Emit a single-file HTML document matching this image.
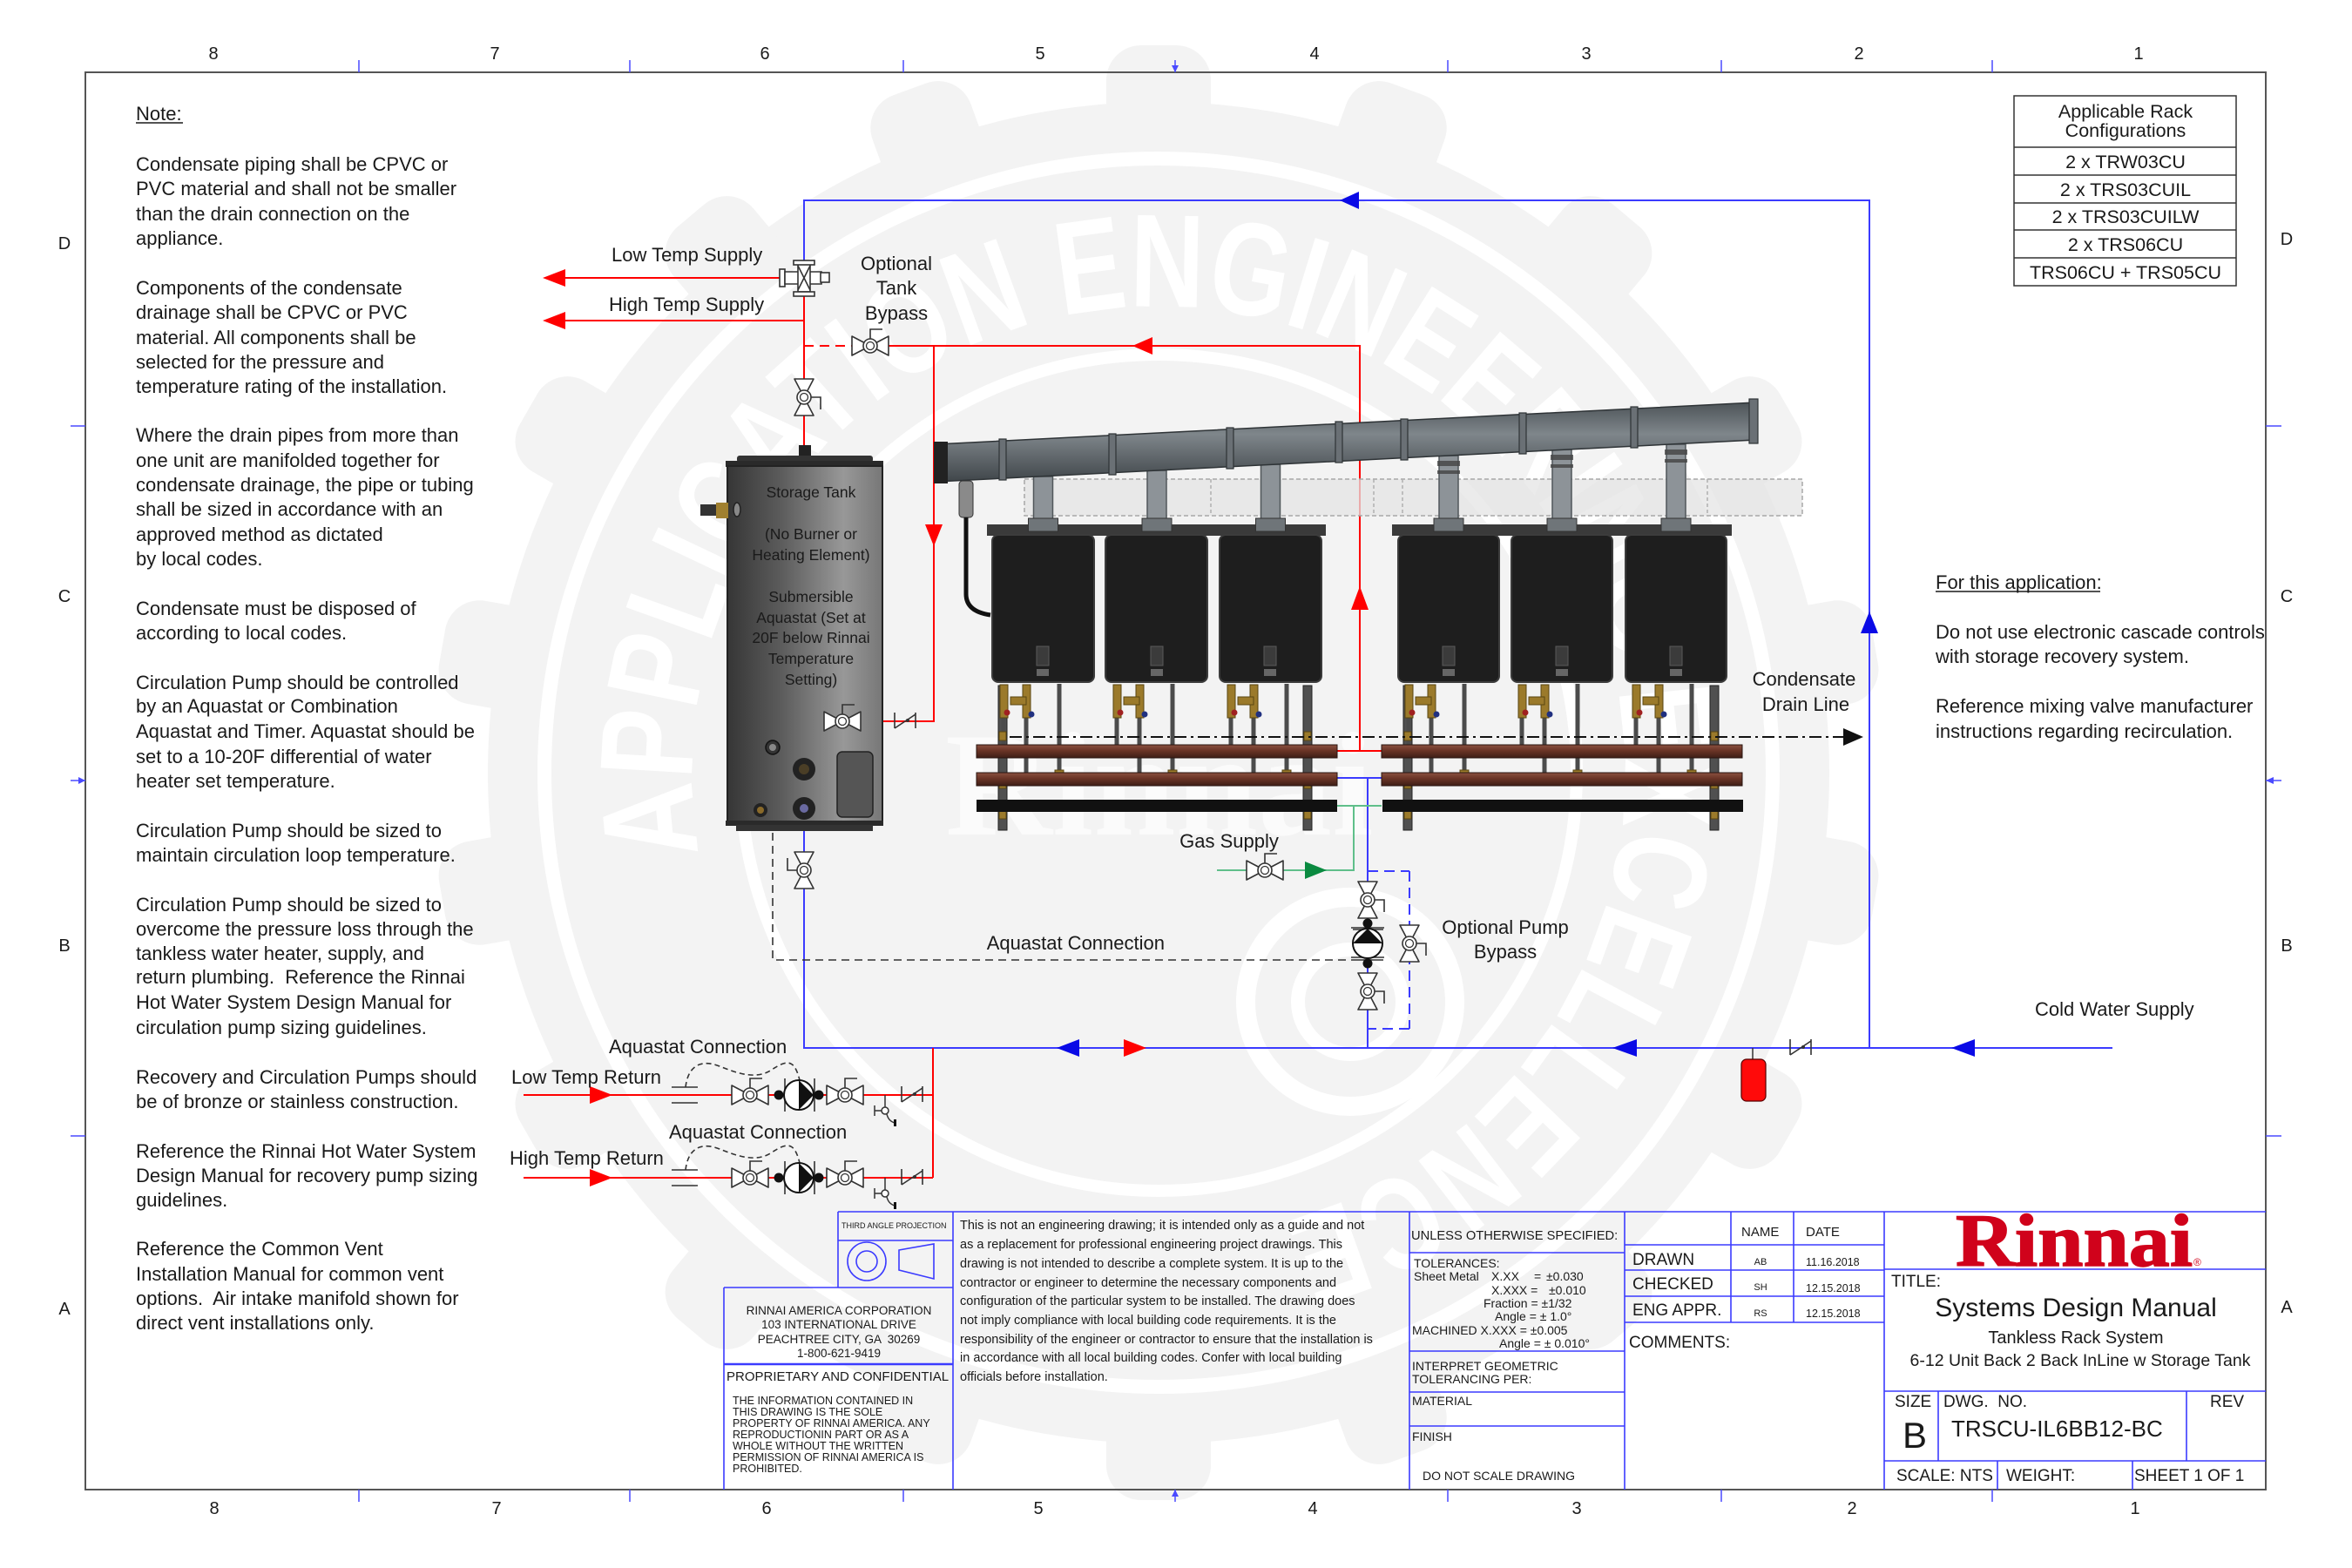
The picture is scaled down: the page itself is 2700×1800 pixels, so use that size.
<!DOCTYPE html>
<html><head><meta charset="utf-8">
<style>
html,body{margin:0;padding:0;background:#fff;}
svg{display:block;}
text{font-family:"Liberation Sans",Arial,sans-serif;fill:#1a1a1a;white-space:pre;}
</style></head><body>
<svg width="2700" height="1800" viewBox="0 0 2700 1800" xmlns="http://www.w3.org/2000/svg" xmlns:xlink="http://www.w3.org/1999/xlink">
<defs>
 <linearGradient id="tankG" x1="0" x2="1" y1="0" y2="0">
  <stop offset="0" stop-color="#363636"/><stop offset="0.35" stop-color="#5c5c5c"/><stop offset="0.75" stop-color="#989898"/><stop offset="1" stop-color="#777"/>
 </linearGradient>
 <linearGradient id="pipeG" x1="0" x2="0" y1="0" y2="1">
  <stop offset="0" stop-color="#4d5458"/><stop offset="0.4" stop-color="#7f868b"/><stop offset="1" stop-color="#40464a"/>
 </linearGradient>
 <linearGradient id="copG" x1="0" x2="0" y1="0" y2="1">
  <stop offset="0" stop-color="#8a5040"/><stop offset="0.45" stop-color="#6a3426"/><stop offset="1" stop-color="#3e1e16"/>
 </linearGradient>
 <g id="v">
  <path d="M-21,-11 L0,0 L-21,11 Z M21,-11 L0,0 L21,11 Z" fill="#fff" stroke="#333" stroke-width="1.6" stroke-linejoin="round"/>
  <circle r="8" fill="#fff" stroke="#333" stroke-width="1.6"/>
  <circle r="4.5" fill="none" stroke="#333" stroke-width="1.3"/>
  <path d="M0,-8 V-19 H14" fill="none" stroke="#333" stroke-width="1.6"/>
 </g>
 <g id="p">
  <line x1="-16" y1="-19" x2="-16" y2="19" stroke="#333" stroke-width="1.6"/>
  <line x1="18" y1="-19" x2="18" y2="19" stroke="#333" stroke-width="1.6"/>
  <circle cx="-23" r="5.5" fill="#111"/><circle cx="23" r="5.5" fill="#111"/>
  <circle r="17" fill="#fff" stroke="#111" stroke-width="2"/>
  <path d="M0,-17 L17,0 L0,17 Z" fill="#111"/>
 </g>
 <g id="c">
  <path d="M0,-10 V8 M0,8 L24,-8 M24,-10 V8" fill="none" stroke="#333" stroke-width="1.6"/>
  <circle cx="15" cy="-1" r="2" fill="#333"/>
 </g>
 <g id="d">
  <path d="M0,0 V14 M-4,18 H-12 M-12,12 V24" fill="none" stroke="#333" stroke-width="1.5"/>
  <circle cx="0" cy="18" r="4" fill="#fff" stroke="#333" stroke-width="1.5"/>
  <path d="M2,22 Q4,30 11,32" fill="none" stroke="#333" stroke-width="1.5"/>
  <rect x="10" y="28" width="3" height="8" fill="#111"/>
 </g>
 <path id="wmArc" d="M803.1,979.9 A535,535 0 1,1 1856.9,794.1 A535,535 0 1,1 803.1,979.9"/>
</defs>

<!-- WATERMARK -->
<g>
 <circle cx="1330" cy="887" r="770" fill="#f3f3f3"/>
 <g transform="translate(1330,887)" fill="#f3f3f3">
  <rect x="-60" y="-835" width="120" height="120" rx="40"/>
  <rect x="-60" y="-835" width="120" height="120" rx="40" transform="rotate(20)"/>
  <rect x="-60" y="-835" width="120" height="120" rx="40" transform="rotate(40)"/>
  <rect x="-60" y="-835" width="120" height="120" rx="40" transform="rotate(60)"/>
  <rect x="-60" y="-835" width="120" height="120" rx="40" transform="rotate(80)"/>
  <rect x="-60" y="-835" width="120" height="120" rx="40" transform="rotate(100)"/>
  <rect x="-60" y="-835" width="120" height="120" rx="40" transform="rotate(120)"/>
  <rect x="-60" y="-835" width="120" height="120" rx="40" transform="rotate(140)"/>
  <rect x="-60" y="-835" width="120" height="120" rx="40" transform="rotate(160)"/>
  <rect x="-60" y="-835" width="120" height="120" rx="40" transform="rotate(180)"/>
  <rect x="-60" y="-835" width="120" height="120" rx="40" transform="rotate(200)"/>
  <rect x="-60" y="-835" width="120" height="120" rx="40" transform="rotate(220)"/>
  <rect x="-60" y="-835" width="120" height="120" rx="40" transform="rotate(240)"/>
  <rect x="-60" y="-835" width="120" height="120" rx="40" transform="rotate(260)"/>
  <rect x="-60" y="-835" width="120" height="120" rx="40" transform="rotate(280)"/>
  <rect x="-60" y="-835" width="120" height="120" rx="40" transform="rotate(300)"/>
  <rect x="-60" y="-835" width="120" height="120" rx="40" transform="rotate(320)"/>
  <rect x="-60" y="-835" width="120" height="120" rx="40" transform="rotate(340)"/>
 </g>
 <circle cx="1330" cy="887" r="705" fill="none" stroke="#fff" stroke-width="16"/>
 <text font-size="152" font-weight="bold" style="fill:#fff"><textPath xlink:href="#wmArc" href="#wmArc" textLength="2470" lengthAdjust="spacingAndGlyphs">APPLICATION ENGINEERING EXCELLENCE</textPath></text>
 <circle cx="1330" cy="887" r="480" fill="none" stroke="#fff" stroke-width="14"/>
 <circle cx="1550" cy="1150" r="120" fill="none" stroke="#fff" stroke-width="22"/>
 <circle cx="1550" cy="1150" r="60" fill="none" stroke="#fff" stroke-width="16"/>
 <text x="1085" y="958" font-size="170" font-weight="bold" style="fill:#fbfbfb;font-family:'Liberation Serif',serif">Rinnai</text>
</g>

<!-- BORDER -->
<rect x="98" y="83" width="2503" height="1627" fill="none" stroke="#555" stroke-width="2"/>
<g stroke="#4a4aff" stroke-width="1.5">
 <path d="M412,69V83 M723,69V83 M1037,69V83 M1349,69V83 M1662,69V83 M1976,69V83 M2287,69V83"/>
 <path d="M412,1710V1724 M723,1710V1724 M1037,1710V1724 M1349,1710V1724 M1662,1710V1724 M1976,1710V1724 M2287,1710V1724"/>
 <path d="M81,489H98 M81,896H98 M81,1304H98 M2601,489H2619 M2601,896H2619 M2601,1304H2619"/>
</g>
<g fill="#4a4aff">
 <polygon points="1345,75 1353,75 1349,83"/>
 <polygon points="1345,1718 1353,1718 1349,1710"/>
 <polygon points="90,892 90,900 98,896"/>
 <polygon points="2610,892 2610,900 2601,896"/>
</g>
<g font-size="20" text-anchor="middle">
 <text x="245" y="68">8</text><text x="568" y="68">7</text><text x="878" y="68">6</text><text x="1194" y="68">5</text>
 <text x="1509" y="68">4</text><text x="1821" y="68">3</text><text x="2134" y="68">2</text><text x="2455" y="68">1</text>
 <text x="246" y="1738">8</text><text x="570" y="1738">7</text><text x="880" y="1738">6</text><text x="1192" y="1738">5</text>
 <text x="1507" y="1738">4</text><text x="1810" y="1738">3</text><text x="2126" y="1738">2</text><text x="2451" y="1738">1</text>
 <text x="74" y="286">D</text><text x="74" y="691">C</text><text x="74" y="1092">B</text><text x="74" y="1509">A</text>
 <text x="2625" y="281">D</text><text x="2625" y="691">C</text><text x="2625" y="1092">B</text><text x="2625" y="1507">A</text>
</g>

<!-- NOTES -->
<g font-size="22">
 <text x="156" y="138">Note:</text>
 <line x1="156" y1="141" x2="210" y2="141" stroke="#1a1a1a" stroke-width="1.5"/>
 <text x="156" y="196">Condensate piping shall be CPVC or</text>
 <text x="156" y="224">PVC material and shall not be smaller</text>
 <text x="156" y="253">than the drain connection on the</text>
 <text x="156" y="281">appliance.</text>
 <text x="156" y="338">Components of the condensate</text>
 <text x="156" y="366">drainage shall be CPVC or PVC</text>
 <text x="156" y="395">material. All components shall be</text>
 <text x="156" y="423">selected for the pressure and</text>
 <text x="156" y="451">temperature rating of the installation.</text>
 <text x="156" y="507">Where the drain pipes from more than</text>
 <text x="156" y="536">one unit are manifolded together for</text>
 <text x="156" y="564">condensate drainage, the pipe or tubing</text>
 <text x="156" y="592">shall be sized in accordance with an</text>
 <text x="156" y="621">approved method as dictated</text>
 <text x="156" y="649">by local codes.</text>
 <text x="156" y="706">Condensate must be disposed of</text>
 <text x="156" y="734">according to local codes.</text>
 <text x="156" y="791">Circulation Pump should be controlled</text>
 <text x="156" y="818">by an Aquastat or Combination</text>
 <text x="156" y="847">Aquastat and Timer. Aquastat should be</text>
 <text x="156" y="876">set to a 10-20F differential of water</text>
 <text x="156" y="904">heater set temperature.</text>
 <text x="156" y="961">Circulation Pump should be sized to</text>
 <text x="156" y="989">maintain circulation loop temperature.</text>
 <text x="156" y="1046">Circulation Pump should be sized to</text>
 <text x="156" y="1074">overcome the pressure loss through the</text>
 <text x="156" y="1102">tankless water heater, supply, and</text>
 <text x="156" y="1129">return plumbing.  Reference the Rinnai</text>
 <text x="156" y="1158">Hot Water System Design Manual for</text>
 <text x="156" y="1187">circulation pump sizing guidelines.</text>
 <text x="156" y="1244">Recovery and Circulation Pumps should</text>
 <text x="156" y="1272">be of bronze or stainless construction.</text>
 <text x="156" y="1329">Reference the Rinnai Hot Water System</text>
 <text x="156" y="1357">Design Manual for recovery pump sizing</text>
 <text x="156" y="1385">guidelines.</text>
 <text x="156" y="1441">Reference the Common Vent</text>
 <text x="156" y="1470">Installation Manual for common vent</text>
 <text x="156" y="1498">options.  Air intake manifold shown for</text>
 <text x="156" y="1526">direct vent installations only.</text>
</g>

<!-- RIGHT TEXT -->
<g font-size="22">
 <text x="2222" y="676">For this application:</text>
 <line x1="2222" y1="679" x2="2411" y2="679" stroke="#1a1a1a" stroke-width="1.5"/>
 <text x="2222" y="733">Do not use electronic cascade controls</text>
 <text x="2222" y="761">with storage recovery system.</text>
 <text x="2222" y="818">Reference mixing valve manufacturer</text>
 <text x="2222" y="847">instructions regarding recirculation.</text>
</g>

<!-- RACK TABLE -->
<g fill="none" stroke="#333" stroke-width="1.5">
 <rect x="2312" y="110" width="255" height="218" fill="#fff"/>
 <path d="M2312,169H2567 M2312,201H2567 M2312,233H2567 M2312,264H2567 M2312,296H2567"/>
</g>
<g font-size="21.5" text-anchor="middle">
 <text x="2440" y="135">Applicable Rack</text>
 <text x="2440" y="157">Configurations</text>
 <text x="2440" y="193">2 x TRW03CU</text>
 <text x="2440" y="225">2 x TRS03CUIL</text>
 <text x="2440" y="256">2 x TRS03CUILW</text>
 <text x="2440" y="288">2 x TRS06CU</text>
 <text x="2440" y="320">TRS06CU + TRS05CU</text>
</g>

<!-- PIPING LINES (behind heaters) -->
<g fill="none" stroke-width="2">
 <path d="M923,300 V230 H2146 V1203" stroke="#3b3bff"/>
 <path d="M923,953 V1203 H2425" stroke="#3b3bff"/>
 <path d="M1535,893 H1586 M1570,893 V1203" stroke="#3b3bff"/>
 <path d="M1570,1000 H1618 M1618,1000 V1181 M1618,1181 H1570" stroke="#3b3bff" stroke-dasharray="12 7"/>
 <path d="M648,319 H895" stroke="#ff0000"/>
 <path d="M648,368 H923" stroke="#ff0000"/>
 <path d="M923,340 V512" stroke="#ff0000"/>
 <path d="M923,397 H978" stroke="#ff0000" stroke-dasharray="11 7"/>
 <path d="M1020,397 H1561 V862" stroke="#ff0000"/>
 <path d="M1072,397 V828 H923 V883" stroke="#ff0000"/>
 <path d="M1535,862 H1586" stroke="#ff0000"/>
 <path d="M601,1257 H1071 M601,1352 H1071 M1071,1203 V1352" stroke="#ff0000"/>
 <path d="M1535,925 H1586 M1554,925 V999 H1397" stroke="#5fbf8a"/>
 <path d="M887,866 V1102 H1553" stroke="#333" stroke-width="1.6" stroke-dasharray="9 6"/>
 <path d="M2012,1203 V1216" stroke="#333" stroke-width="1.5"/>
</g>

<!-- HEATERS -->
<g>
 <rect x="1176" y="550" width="893" height="42" fill="#e4e4e4" fill-opacity="0.75" stroke="#a8a8a8" stroke-width="1.5" stroke-dasharray="5 3"/>
 <path d="M1390,550V592 M1577,550V592 M1610,550V592 M1784,550V592 M1960,550V592" stroke="#b0b0b0" stroke-width="1.5" stroke-dasharray="4 3"/>
 <g fill="#8d9398" stroke="#50565a" stroke-width="1.5">
  <rect x="1186.5" y="547" width="22" height="51"/>
  <rect x="1317" y="540" width="22" height="58"/>
  <rect x="1447.5" y="533" width="22" height="65"/>
  <rect x="1652" y="523" width="22" height="75"/>
  <rect x="1782" y="516" width="22" height="82"/>
  <rect x="1913" y="510" width="22" height="88"/>
 </g>
 <g fill="#444" opacity="0.8">
  <rect x="1650" y="529" width="26" height="6"/><rect x="1780" y="522" width="26" height="6"/><rect x="1911" y="516" width="26" height="6"/>
  <rect x="1650" y="540" width="26" height="4"/><rect x="1780" y="533" width="26" height="4"/><rect x="1911" y="527" width="26" height="4"/>
 </g>
 <polygon points="1075,510 2015,462 2015,505 1075,553" fill="url(#pipeG)" stroke="#2e3336" stroke-width="1.5"/>
 <g fill="#6a7075" stroke="#2e3336" stroke-width="1.2">
  <rect x="1147" y="504" width="8" height="47"/>
  <rect x="1273" y="498" width="8" height="47"/>
  <rect x="1408" y="491" width="8" height="47"/>
  <rect x="1533" y="484" width="8" height="47"/>
  <rect x="1608" y="481" width="8" height="47"/>
  <rect x="1744" y="474" width="8" height="47"/>
  <rect x="1872" y="467" width="8" height="47"/>
  <rect x="2008" y="458" width="10" height="51"/>
 </g>
 <rect x="1072" y="507" width="16" height="48" fill="#222"/>
 <rect x="1101" y="552" width="16" height="42" rx="4" fill="#8a8a8a" stroke="#333"/>
 <path d="M1109,594 V682 Q1109,702 1137,706" fill="none" stroke="#111" stroke-width="5"/>

 <rect x="1133" y="602" width="389" height="13" fill="#3a3a3a"/>
 <rect x="1598" y="602" width="390" height="13" fill="#3a3a3a"/>
 <g fill="#6f7579" stroke="#333">
  <rect x="1180.5" y="595" width="34" height="15"/><rect x="1311" y="595" width="34" height="15"/><rect x="1441.5" y="595" width="34" height="15"/>
  <rect x="1646" y="595" width="34" height="15"/><rect x="1776" y="595" width="34" height="15"/><rect x="1907" y="595" width="34" height="15"/>
 </g>
 <g fill="#1e1e1e" stroke="#3c3c3c" stroke-width="2">
  <rect x="1139" y="614" width="117" height="169" rx="7"/>
  <rect x="1269" y="614" width="117" height="169" rx="7"/>
  <rect x="1400" y="614" width="117" height="169" rx="7"/>
  <rect x="1605" y="614" width="116" height="169" rx="7"/>
  <rect x="1735" y="614" width="116" height="169" rx="7"/>
  <rect x="1866" y="614" width="116" height="169" rx="7"/>
 </g>
 <g fill="#3b3b3b" stroke="#5a5a5a">
  <rect x="1190" y="742" width="14" height="22"/><rect x="1321" y="742" width="14" height="22"/><rect x="1451" y="742" width="14" height="22"/>
  <rect x="1656" y="742" width="14" height="22"/><rect x="1786" y="742" width="14" height="22"/><rect x="1917" y="742" width="14" height="22"/>
 </g>
 <g fill="#666">
  <rect x="1190" y="768" width="14" height="8"/><rect x="1321" y="768" width="14" height="8"/><rect x="1451" y="768" width="14" height="8"/>
  <rect x="1656" y="768" width="14" height="8"/><rect x="1786" y="768" width="14" height="8"/><rect x="1917" y="768" width="14" height="8"/>
 </g>
 <!-- rack posts -->
 <g fill="#505050" stroke="#222">
  <rect x="1146" y="787" width="10" height="166"/><rect x="1496" y="787" width="10" height="166"/>
  <rect x="1611" y="787" width="10" height="166"/><rect x="1963" y="787" width="10" height="166"/>
 </g>
 <!-- pipes under units -->
 <g stroke="#4b4b4b" stroke-width="5">
  <path d="M1152,824V866 M1178,824V896 M1216,785V896"/>
  <path d="M1282,824V866 M1308,824V896 M1346,785V896"/>
  <path d="M1413,824V866 M1439,824V896 M1477,785V896"/>
  <path d="M1617,824V866 M1643,824V896 M1681,785V896"/>
  <path d="M1747,824V866 M1773,824V896 M1811,785V896"/>
  <path d="M1878,824V866 M1904,824V896 M1942,785V896"/>
 </g>
 <g fill="#9b7a2b" stroke="#5a4612" stroke-width="1">
  <rect x="1148" y="786" width="9" height="38"/><rect x="1174" y="786" width="9" height="38"/><rect x="1160" y="800" width="18" height="9"/>
  <rect x="1278" y="786" width="9" height="38"/><rect x="1304" y="786" width="9" height="38"/><rect x="1290" y="800" width="18" height="9"/>
  <rect x="1409" y="786" width="9" height="38"/><rect x="1435" y="786" width="9" height="38"/><rect x="1421" y="800" width="18" height="9"/>
  <rect x="1613" y="786" width="9" height="38"/><rect x="1639" y="786" width="9" height="38"/><rect x="1625" y="800" width="18" height="9"/>
  <rect x="1743" y="786" width="9" height="38"/><rect x="1769" y="786" width="9" height="38"/><rect x="1755" y="800" width="18" height="9"/>
  <rect x="1874" y="786" width="9" height="38"/><rect x="1900" y="786" width="9" height="38"/><rect x="1886" y="800" width="18" height="9"/>
  <rect x="1211" y="884" width="10" height="14"/><rect x="1341" y="884" width="10" height="14"/><rect x="1472" y="884" width="10" height="14"/>
  <rect x="1676" y="884" width="10" height="14"/><rect x="1806" y="884" width="10" height="14"/><rect x="1937" y="884" width="10" height="14"/>
  <rect x="1147" y="840" width="8" height="10"/><rect x="1497" y="840" width="8" height="10"/><rect x="1612" y="840" width="8" height="10"/><rect x="1964" y="840" width="8" height="10"/>
  <rect x="1147" y="895" width="8" height="10"/><rect x="1497" y="895" width="8" height="10"/><rect x="1612" y="895" width="8" height="10"/><rect x="1964" y="895" width="8" height="10"/>
  <rect x="1147" y="930" width="8" height="10"/><rect x="1497" y="930" width="8" height="10"/><rect x="1612" y="930" width="8" height="10"/><rect x="1964" y="930" width="8" height="10"/>
 </g>
 <g fill="#a02020"><circle cx="1156" cy="818" r="3.5"/><circle cx="1286" cy="818" r="3.5"/><circle cx="1417" cy="818" r="3.5"/><circle cx="1621" cy="818" r="3.5"/><circle cx="1751" cy="818" r="3.5"/><circle cx="1882" cy="818" r="3.5"/></g>
 <g fill="#203080"><circle cx="1184" cy="820" r="3.5"/><circle cx="1314" cy="820" r="3.5"/><circle cx="1445" cy="820" r="3.5"/><circle cx="1649" cy="820" r="3.5"/><circle cx="1779" cy="820" r="3.5"/><circle cx="1910" cy="820" r="3.5"/></g>
 <!-- manifold bars -->
 <g fill="url(#copG)" stroke="#2a1510" stroke-width="1">
  <rect x="1121" y="855" width="414" height="15"/><rect x="1586" y="855" width="414" height="15"/>
  <rect x="1121" y="887" width="414" height="15"/><rect x="1586" y="887" width="414" height="15"/>
 </g>
 <rect x="1121" y="918" width="414" height="14" fill="#111"/>
 <rect x="1587" y="918" width="414" height="14" fill="#111"/>
</g>

<!-- condensate drain line -->
<path d="M1159,846 H2116" stroke="#111" stroke-width="2" stroke-dasharray="14 5 3 5" fill="none"/>
<polygon points="2116,836 2139,846 2116,856" fill="#111"/>

<!-- STORAGE TANK -->
<g>
 <rect x="917" y="511" width="14" height="15" fill="#222"/>
 <rect x="846" y="523" width="156" height="8" rx="3" fill="#333"/>
 <rect x="833" y="529" width="181" height="7" fill="#2a2a2a"/>
 <rect x="835" y="535" width="178" height="408" fill="url(#tankG)" stroke="#222" stroke-width="2"/>
 <rect x="833" y="942" width="181" height="6" fill="#2a2a2a"/>
 <rect x="845" y="947" width="157" height="7" fill="#333"/>
 <rect x="804" y="579" width="20" height="13" fill="#333"/>
 <rect x="822" y="577" width="14" height="18" fill="#a08030"/>
 <ellipse cx="846" cy="585" rx="4" ry="8" fill="#888" stroke="#222" stroke-width="1.5"/>
 <circle cx="887" cy="858" r="8" fill="#333" stroke="#111" stroke-width="1.5"/><circle cx="887" cy="858" r="4" fill="#888"/>
 <circle cx="923" cy="883" r="13" fill="#222"/><circle cx="923" cy="883" r="6" fill="#4a3e26"/>
 <circle cx="923" cy="928" r="13" fill="#222"/><circle cx="923" cy="928" r="5" fill="#6a6aa0"/>
 <circle cx="873" cy="930" r="8" fill="#222"/><circle cx="873" cy="930" r="4" fill="#8a6a2a"/>
 <rect x="961" y="863" width="41" height="75" rx="6" fill="#555" stroke="#222" stroke-width="1.5"/>
 <g font-size="17.5" text-anchor="middle">
  <text x="931" y="571">Storage Tank</text>
  <text x="931" y="619">(No Burner or</text>
  <text x="931" y="643">Heating Element)</text>
  <text x="931" y="691">Submersible</text>
  <text x="931" y="715">Aquastat (Set at</text>
  <text x="931" y="738">20F below Rinnai</text>
  <text x="931" y="762">Temperature</text>
  <text x="931" y="786">Setting)</text>
 </g>
</g>

<!-- SYMBOLS -->
<g>
 <!-- mixing valve -->
 <g fill="#fff" stroke="#333" stroke-width="1.6">
  <rect x="895" y="309" width="6" height="20"/>
  <path d="M901,312 H943 V326 H901 Z"/>
  <rect x="916" y="303" width="14" height="32"/>
  <rect x="911" y="299" width="24" height="5"/>
  <rect x="911" y="335" width="24" height="5"/>
  <path d="M916,305 L930,333 M930,305 L916,333" fill="none"/>
  <path d="M943,319 H946" fill="none"/>
  <rect x="942" y="313" width="10" height="11"/>
 </g>
 <use href="#v" xlink:href="#v" transform="translate(923,456) rotate(90)"/>
 <use href="#v" xlink:href="#v" transform="translate(999,397)"/>
 <use href="#v" xlink:href="#v" transform="translate(967,828)"/>
 <use href="#c" xlink:href="#c" transform="translate(1027,828)"/>
 <use href="#v" xlink:href="#v" transform="translate(923,999) rotate(-90)"/>
 <use href="#v" xlink:href="#v" transform="translate(1570,1033) rotate(90)"/>
 <use href="#v" xlink:href="#v" transform="translate(1570,1138) rotate(90)"/>
 <use href="#v" xlink:href="#v" transform="translate(1618,1083) rotate(90)"/>
 <line x1="1553" y1="1067" x2="1588" y2="1067" stroke="#333" stroke-width="1.6"/>
 <line x1="1553" y1="1102" x2="1588" y2="1102" stroke="#333" stroke-width="1.6"/>
 <use href="#p" xlink:href="#p" transform="translate(1570,1083) rotate(-90)"/>
 <use href="#v" xlink:href="#v" transform="translate(1452,999)"/>
 <use href="#c" xlink:href="#c" transform="translate(2055,1203)"/>
 <rect x="1999" y="1216" width="28" height="48" rx="6" fill="#ff0a0a" stroke="#500" stroke-width="1.2"/>
 <!-- returns -->
 <g stroke="#333" stroke-width="1.6" fill="none">
  <path d="M771,1248 H801 M771,1266 H801"/>
  <path d="M771,1343 H801 M771,1361 H801"/>
  <path d="M787,1248 C790,1222 806,1216 826,1224 S868,1240 886,1228 S912,1216 918,1240" stroke-dasharray="6 4"/>
  <path d="M787,1343 C790,1317 806,1311 826,1319 S868,1335 886,1323 S912,1311 918,1335" stroke-dasharray="6 4"/>
 </g>
 <use href="#v" xlink:href="#v" transform="translate(861,1257)"/>
 <use href="#p" xlink:href="#p" transform="translate(917,1257)"/>
 <use href="#v" xlink:href="#v" transform="translate(970,1257)"/>
 <use href="#d" xlink:href="#d" transform="translate(1016,1257)"/>
 <use href="#c" xlink:href="#c" transform="translate(1035,1257)"/>
 <use href="#v" xlink:href="#v" transform="translate(861,1352)"/>
 <use href="#p" xlink:href="#p" transform="translate(917,1352)"/>
 <use href="#v" xlink:href="#v" transform="translate(970,1352)"/>
 <use href="#d" xlink:href="#d" transform="translate(1016,1352)"/>
 <use href="#c" xlink:href="#c" transform="translate(1035,1352)"/>
</g>

<!-- ARROWS -->
<g fill="#ff0000">
 <polygon points="623,319 649,309 649,329"/>
 <polygon points="623,368 649,358 649,378"/>
 <polygon points="1300,397 1323,387 1323,407"/>
 <polygon points="1072,627 1062,602 1082,602"/>
 <polygon points="1561,673 1551,700 1571,700"/>
 <polygon points="1316,1203 1290,1193 1290,1213"/>
 <polygon points="703,1257 677,1247 677,1267"/>
 <polygon points="703,1352 677,1342 677,1362"/>
</g>
<g fill="#0a0ae6">
 <polygon points="1538,230 1560,220 1560,240"/>
 <polygon points="2146,702 2136,727 2156,727"/>
 <polygon points="1213,1203 1239,1193 1239,1213"/>
 <polygon points="1851,1203 1879,1193 1879,1213"/>
 <polygon points="2240,1203 2267,1193 2267,1213"/>
</g>
<polygon points="1523,999 1498,989 1498,1009" fill="#0a8a40"/>

<!-- DIAGRAM LABELS -->
<g font-size="22">
 <text x="702" y="300">Low Temp Supply</text>
 <text x="699" y="357">High Temp Supply</text>
 <text x="1029" y="310" text-anchor="middle">Optional</text>
 <text x="1029" y="338" text-anchor="middle">Tank</text>
 <text x="1029" y="367" text-anchor="middle">Bypass</text>
 <text x="2071" y="787" text-anchor="middle">Condensate</text>
 <text x="2073" y="816" text-anchor="middle">Drain Line</text>
 <text x="1411" y="973" text-anchor="middle">Gas Supply</text>
 <text x="1337" y="1090" text-anchor="end">Aquastat Connection</text>
 <text x="1728" y="1072" text-anchor="middle">Optional Pump</text>
 <text x="1728" y="1100" text-anchor="middle">Bypass</text>
 <text x="2336" y="1166">Cold Water Supply</text>
 <text x="699" y="1209">Aquastat Connection</text>
 <text x="587" y="1244">Low Temp Return</text>
 <text x="768" y="1307">Aquastat Connection</text>
 <text x="585" y="1337">High Temp Return</text>
</g>

<!-- TITLE BLOCK -->
<g fill="none" stroke="#3b3bff" stroke-width="1.6">
 <path d="M962,1391 H2601"/>
 <path d="M962,1391 V1478 M962,1424 H1094"/>
 <path d="M831,1478 H1094 M831,1478 V1710"/>
 <path d="M831,1566 H1094" stroke-width="2.5"/>
 <path d="M1094,1391 V1710 M1618,1391 V1710 M1865,1391 V1710 M2163,1391 V1710"/>
 <path d="M1618,1438 H1865 M1618,1551 H1865 M1618,1598 H1865 M1618,1637 H1865"/>
 <path d="M1865,1429 H2163 M1865,1458 H2163 M1865,1488 H2163 M1865,1518 H2163 M1987,1391 V1518 M2059,1391 V1518"/>
 <path d="M2163,1457 H2601 M2163,1597 H2601 M2163,1677 H2601 M2225,1597 V1677 M2510,1597 V1677 M2293,1677 V1710 M2448,1677 V1710"/>
 <circle cx="995" cy="1448" r="22"/>
 <circle cx="995" cy="1448" r="12"/>
 <path d="M1032,1435 L1072,1428 L1072,1468 L1032,1458 Z"/>
</g>
<text x="966" y="1410" font-size="9">THIRD ANGLE PROJECTION</text>
<g font-size="13.5" text-anchor="middle">
 <text x="963" y="1509">RINNAI AMERICA CORPORATION</text>
 <text x="963" y="1525">103 INTERNATIONAL DRIVE</text>
 <text x="963" y="1542">PEACHTREE CITY, GA  30269</text>
 <text x="963" y="1558">1-800-621-9419</text>
</g>
<text x="834" y="1585" font-size="15">PROPRIETARY AND CONFIDENTIAL</text>
<g font-size="12.5">
 <text x="841" y="1612">THE INFORMATION CONTAINED IN</text>
 <text x="841" y="1625">THIS DRAWING IS THE SOLE</text>
 <text x="841" y="1638">PROPERTY OF RINNAI AMERICA. ANY</text>
 <text x="841" y="1651">REPRODUCTIONIN PART OR AS A</text>
 <text x="841" y="1664">WHOLE WITHOUT THE WRITTEN</text>
 <text x="841" y="1677">PERMISSION OF RINNAI AMERICA IS</text>
 <text x="841" y="1690">PROHIBITED.</text>
</g>
<g font-size="14.5">
 <text x="1102" y="1411">This is not an engineering drawing; it is intended only as a guide and not</text>
 <text x="1102" y="1433">as a replacement for professional engineering project drawings. This</text>
 <text x="1102" y="1455">drawing is not intended to describe a complete system. It is up to the</text>
 <text x="1102" y="1477">contractor or engineer to determine the necessary components and</text>
 <text x="1102" y="1498">configuration of the particular system to be installed. The drawing does</text>
 <text x="1102" y="1520">not imply compliance with local building code requirements. It is the</text>
 <text x="1102" y="1542">responsibility of the engineer or contractor to ensure that the installation is</text>
 <text x="1102" y="1563">in accordance with all local building codes. Confer with local building</text>
 <text x="1102" y="1585">officials before installation.</text>
</g>
<text x="1620" y="1423" font-size="14.7">UNLESS OTHERWISE SPECIFIED:</text>
<g font-size="14">
 <text x="1623" y="1455">TOLERANCES:</text>
 <text x="1623" y="1470">Sheet Metal</text><text x="1712" y="1470">X.XX</text><text x="1761" y="1470">=</text><text x="1775" y="1470">±0.030</text>
 <text x="1712" y="1486">X.XXX =</text><text x="1778" y="1486">±0.010</text>
 <text x="1703" y="1501">Fraction = ±1/32</text>
 <text x="1716" y="1516">Angle = ± 1.0°</text>
 <text x="1621" y="1532">MACHINED X.XXX = ±0.005</text>
 <text x="1721" y="1547">Angle = ± 0.010°</text>
 <text x="1621" y="1573">INTERPRET GEOMETRIC</text>
 <text x="1621" y="1588">TOLERANCING PER:</text>
 <text x="1621" y="1613">MATERIAL</text>
 <text x="1621" y="1654">FINISH</text>
 <text x="1633" y="1699">DO NOT SCALE DRAWING</text>
</g>
<g font-size="15">
 <text x="1999" y="1419">NAME</text>
 <text x="2073" y="1419">DATE</text>
</g>
<g font-size="19">
 <text x="1874" y="1452">DRAWN</text>
 <text x="1874" y="1480">CHECKED</text>
 <text x="1874" y="1510">ENG APPR.</text>
 <text x="1870" y="1547">COMMENTS:</text>
 <text x="2171" y="1477">TITLE:</text>
 <text x="2175" y="1615">SIZE</text>
 <text x="2231" y="1615">DWG.  NO.</text>
 <text x="2537" y="1615">REV</text>
 <text x="2177" y="1700">SCALE: NTS</text>
 <text x="2303" y="1700">WEIGHT:</text>
 <text x="2450" y="1700">SHEET 1 OF 1</text>
</g>
<g font-size="11" text-anchor="middle">
 <text x="2021" y="1452">AB</text>
 <text x="2021" y="1481">SH</text>
 <text x="2021" y="1511">RS</text>
</g>
<g font-size="12.5">
 <text x="2073" y="1453">11.16.2018</text>
 <text x="2073" y="1483">12.15.2018</text>
 <text x="2073" y="1512">12.15.2018</text>
</g>
<text x="2245" y="1453" font-size="86" font-weight="bold" textLength="272" lengthAdjust="spacingAndGlyphs" style="fill:#d0021b;font-family:'Liberation Serif',serif;stroke:#d0021b;stroke-width:1.5">Rinnai</text>
<text x="2518" y="1453" font-size="12" style="fill:#d0021b">®</text>
<text x="2383" y="1511" font-size="30" text-anchor="middle">Systems Design Manual</text>
<text x="2383" y="1542" font-size="20" text-anchor="middle">Tankless Rack System</text>
<text x="2388" y="1568" font-size="19.5" text-anchor="middle">6-12 Unit Back 2 Back InLine w Storage Tank</text>
<text x="2184" y="1662" font-size="42">B</text>
<text x="2240" y="1649" font-size="26">TRSCU-IL6BB12-BC</text>
</svg>
</body></html>
